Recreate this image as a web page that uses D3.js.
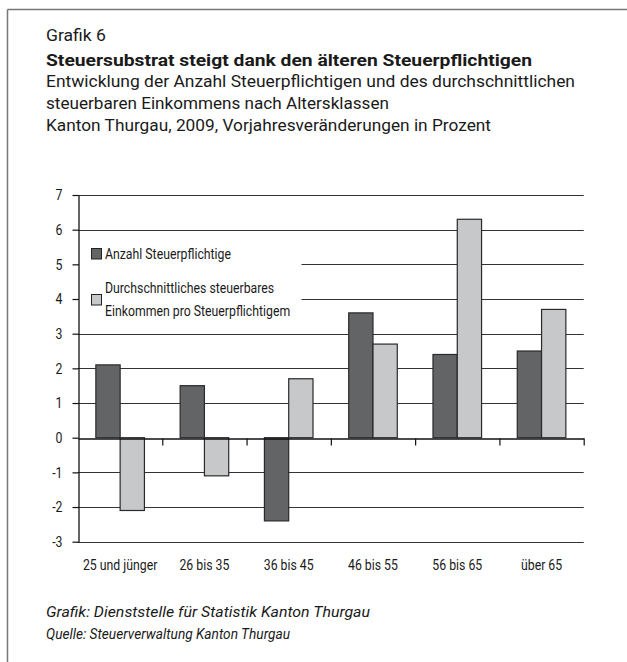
<!DOCTYPE html>
<html>
<head>
<meta charset="utf-8">
<script src="https://cdn.jsdelivr.net/npm/d3@7"></script>
<style>
  body { margin: 0; background: #fff; }
  svg { display: block; }
  text { font-family: Roboto, "Liberation Sans", sans-serif; fill: #1a1a1a; }
</style>
</head>
<body>
<div id="chart"></div>
<script>
// Werte (Vorjahresveränderung in %)
const categories = ["25 und jünger", "26 bis 35", "36 bis 45", "46 bis 55", "56 bis 65", "über 65"];
const anzahl = [2.1, 1.5, -2.4, 3.6, 2.4, 2.5];
const einkommen = [-2.1, -1.1, 1.7, 2.7, 6.3, 3.7];
const yTicks = [-3, -2, -1, 0, 1, 2, 3, 4, 5, 6, 7];
const seriesKeys = ["anzahl", "einkommen"];
const legendLabels = [["Anzahl Steuerpflichtige"], ["Durchschnittliches steuerbares", "Einkommen pro Steuerpflichtigem"]];

const titleLines = [
    {text: "Grafik 6", bold: false, len: 60},
    {text: "Steuersubstrat steigt dank den älteren Steuerpflichtigen", bold: true, len: 486},
    {text: "Entwicklung der Anzahl Steuerpflichtigen und des durchschnittlichen", bold: false, len: 529},
    {text: "steuerbaren Einkommens nach Altersklassen", bold: false, len: 343},
    {text: "Kanton Thurgau, 2009, Vorjahresveränderungen in Prozent", bold: false, len: 445}
];
const footerLines = [
    {text: "Grafik: Dienststelle für Statistik Kanton Thurgau", len: 324},
    {text: "Quelle: Steuerverwaltung Kanton Thurgau", len: 244}
];

const colors = {anzahl: "#636466", einkommen: "#c7c8c9"};

const width = 627, height = 662;
const plot = {left: 78, right: 583.7, top: 195, bottom: 541.7};

// schmale Schrift nachbilden: Text horizontal stauchen
function condense(sel, f) {
    sel.each(function () {
        const w = this.getComputedTextLength();
        d3.select(this)
            .attr("textLength", w * f)
            .attr("lengthAdjust", "spacingAndGlyphs");
    });
}

const svg = d3.select("#chart")
    .append("svg")
    .attr("width", width)
    .attr("height", height);

// Rahmen oben und links
svg.append("line")
    .attr("x1", 7.5).attr("y1", 9.5).attr("x2", width).attr("y2", 9.5)
    .style("stroke", "#777").style("stroke-width", 1.5);
svg.append("line")
    .attr("x1", 7.5).attr("y1", 9.5).attr("x2", 7.5).attr("y2", height)
    .style("stroke", "#777").style("stroke-width", 1.5);

// Titel
const baselines = [40.7, 65.5, 87.3, 109.3, 131];
svg.selectAll(".title")
    .data(titleLines)
    .enter()
    .append("text")
    .attr("class", "title")
    .attr("x", 46)
    .attr("y", (d, i) => baselines[i])
    .attr("textLength", (d) => d.len)
    .attr("lengthAdjust", "spacingAndGlyphs")
    .style("font-size", "17px")
    .style("font-weight", (d) => d.bold ? "bold" : "normal")
    .text((d) => d.text);

const y = d3.scaleLinear()
    .domain([-3, 7])
    .range([plot.bottom, plot.top]);

const x0 = d3.scaleBand()
    .domain(categories)
    .range([plot.left, plot.right])
    .padding(0);

const x1 = d3.scaleBand()
    .domain(seriesKeys)
    .range([0, x0.bandwidth()])
    .paddingInner(0)
    .paddingOuter(0.735);

// Gitternetzlinien
svg.append("g")
    .selectAll("line")
    .data(yTicks.filter((t) => t !== 0))
    .enter()
    .append("line")
    .attr("x1", plot.left)
    .attr("x2", plot.right)
    .attr("y1", (d) => Math.round(y(d)) + 0.5)
    .attr("y2", (d) => Math.round(y(d)) + 0.5)
    .style("stroke", "#333")
    .style("stroke-width", 1.2);

// Legende (weisser Hintergrund verdeckt Gitternetz)
const legend = svg.append("g");
legend.append("rect")
    .attr("x", plot.left + 1)
    .attr("y", y(5.8))
    .attr("width", 301.5 - plot.left - 1)
    .attr("height", y(3.2) - y(5.8))
    .style("fill", "#fff");

const legendY = [{box: 248.5, lines: [259]}, {box: 294.5, lines: [293, 315.7]}];
seriesKeys.forEach((key, i) => {
    legend.append("rect")
        .attr("x", 91.5)
        .attr("y", legendY[i].box)
        .attr("width", 10)
        .attr("height", 10.5)
        .style("fill", colors[key])
        .style("stroke", "#222")
        .style("stroke-width", 1);
    legendLabels[i].forEach((line, j) => {
        legend.append("text")
            .attr("class", "small")
            .attr("x", 105)
            .attr("y", legendY[i].lines[j])
            .style("font-size", "15px")
            .text(line);
    });
});

// Stauchfaktor aus der ersten Legendenzeile (Breite in der Vorlage ca. 126 px)
const narrow = 126 / legend.select("text").node().getComputedTextLength();

// Balken
const dataset = categories.map((c, i) => ({category: c, anzahl: anzahl[i], einkommen: einkommen[i]}));

const groups = svg.append("g")
    .selectAll("g")
    .data(dataset)
    .enter()
    .append("g")
    .attr("transform", (d) => `translate(${x0(d.category)},0)`);

groups.selectAll("rect")
    .data((d) => seriesKeys.map((k) => ({key: k, value: d[k]})))
    .enter()
    .append("rect")
    .attr("x", (d) => x1(d.key))
    .attr("y", (d) => y(Math.max(0, d.value)))
    .attr("width", x1.bandwidth())
    .attr("height", (d) => Math.abs(y(d.value) - y(0)))
    .style("fill", (d) => colors[d.key])
    .style("stroke", "#2a2a2a")
    .style("stroke-width", 1.2);

// x-Achse auf Nulllinie mit Trennstrichen
const xBound = d3.scaleLinear()
    .domain([0, categories.length])
    .range([plot.left, plot.right]);

const xAxis = svg.append("g")
    .attr("transform", `translate(0, ${Math.round(y(0)) + 0.5})`)
    .call(d3.axisBottom(xBound)
        .tickValues(d3.range(1, categories.length + 1))
        .tickFormat("")
        .tickSize(7)
        .tickSizeOuter(0));
xAxis.select(".domain").style("stroke", "#111").style("stroke-width", 1.3);
xAxis.selectAll("line").style("stroke", "#111").style("stroke-width", 1.2);

// Kategorienbeschriftung
svg.append("g")
    .selectAll("text")
    .data(categories)
    .enter()
    .append("text")
    .attr("class", "small")
    .attr("x", (d) => x0(d) + x0.bandwidth() / 2)
    .attr("y", 570)
    .attr("text-anchor", "middle")
    .style("font-size", "15px")
    .text((d) => d);

// y-Achse
const yAxis = svg.append("g")
    .attr("transform", `translate(${plot.left + 0.5},0)`)
    .call(d3.axisLeft(y)
        .tickValues(yTicks)
        .tickFormat((d) => String(d))
        .tickSize(6)
        .tickPadding(10)
        .tickSizeOuter(0));
yAxis.select(".domain").style("stroke", "#111").style("stroke-width", 1.3);
yAxis.selectAll("line").style("stroke", "#111").style("stroke-width", 1.2);
yAxis.selectAll("text")
    .attr("class", "small")
    .style("font-family", "Roboto, 'Liberation Sans', sans-serif")
    .style("font-size", "15px")
    .style("fill", "#1a1a1a");

condense(svg.selectAll("text.small"), narrow);

// Fusszeile
svg.selectAll(".footer")
    .data(footerLines)
    .enter()
    .append("text")
    .attr("class", "footer")
    .attr("x", 46)
    .attr("y", (d, i) => 616.5 + i * 22)
    .attr("textLength", (d) => d.len)
    .attr("lengthAdjust", "spacingAndGlyphs")
    .style("font-size", "15.5px")
    .style("font-style", "italic")
    .text((d) => d.text);
</script>
</body>
</html>
